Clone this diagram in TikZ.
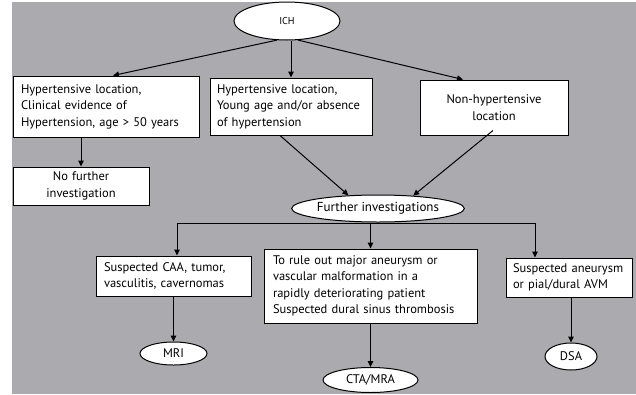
\documentclass[tikz,border=0pt]{standalone}
\usepackage{fontspec}
\setmainfont{PT Sans}
\usetikzlibrary{arrows.meta,shapes.geometric,calc}
\definecolor{bggray}{HTML}{ABABAF}
\begin{document}
\begin{tikzpicture}[x=1pt,y=-1pt,
  box/.style={draw=black,fill=white,line width=1pt,inner xsep=7pt,inner ysep=2pt,
    font=\fontsize{12.5}{16.5}\selectfont,minimum height=#1},
  box/.default=40pt,
  oval/.style={draw=black,fill=white,line width=1pt,ellipse,inner sep=0pt,
    font=\fontsize{12.5}{14}\selectfont},
  arr/.style={line width=1pt,-{Triangle[length=6pt,width=5.5pt]}},
  ln/.style={line width=1pt}]
\useasboundingbox (0,0) rectangle (636,394);
\fill[white] (0,0) rectangle (636,394);
\fill[bggray] (12,2) rectangle (636,394);

\node[oval,minimum width=106pt,minimum height=38pt,font=\fontsize{10}{12}\selectfont] (ich) at (287,21) {ICH};

\node[box=61pt,align=left,inner xsep=8pt,text width=170pt] (b1) at (106,106.5)
  {Hypertensive location,\\Clinical evidence of\\Hypertension, age > 50 years};
\node[box=57pt,text width=148pt,align=left] (b2) at (291,106.5)
  {Hypertensive location,\\Young age and/or absence\\of hypertension};
\node[box=55pt,text width=134pt,align=center] (b3) at (494,107.5)
  {Non-hypertensive\\location};
\node[box=38pt,text width=122pt,align=center] (b4) at (81,186)
  {No further\\investigation};

\node[oval,minimum width=170pt,minimum height=27pt,font=\fontsize{13}{14}\selectfont] (fi) at (378,208.5) {Further investigations};

\node[box=40pt,text width=139pt,align=left,inner xsep=8pt] (b5) at (173.5,276)
  {Suspected CAA, tumor,\\vasculitis, cavernomas};
\node[box=74pt,text width=195pt,align=left,inner xsep=9pt] (b6) at (370.5,286)
  {To rule out major aneurysm or\\vascular malformation in a\\rapidly deteriorating patient\\Suspected dural sinus thrombosis};
\node[box=39pt,text width=112pt,align=left] (b7) at (569,277.5)
  {Suspected aneurysm\\or pial/dural AVM};

\node[oval,minimum width=67pt,minimum height=23pt] (mri) at (173.5,353.5) {MRI};
\node[oval,minimum width=95pt,minimum height=25pt] (cta) at (370.5,380) {CTA/MRA};
\node[oval,minimum width=52pt,minimum height=27pt] (dsa) at (571,356.5) {DSA};

\draw[arr] (ich.242) -- ([xshift=7pt]b1.north);
\draw[arr] (ich.south -| b2.north) -- (b2.north);
\draw[arr] (ich.300) -- ([xshift=-31pt]b3.north);
\draw[arr] (b4.north |- b1.south) -- (b4.north);

\draw[arr] ([xshift=-11pt]b2.south) -- (fi.156);
\draw[arr] ([xshift=-1pt,yshift=5pt]b3.south) -- (fi.20);

\coordinate (jl) at (177,223);
\coordinate (jr) at (535,223);
\draw[ln] (jl) -- (jr);
\draw[arr] (jl) -- (b5.north -| jl);
\draw[arr] (fi.south -| b6.north) -- (b6.north);
\draw[arr] (jr) -- (b7.north -| jr);

\draw[arr] (mri.north |- b5.south) -- (mri.north);
\draw[arr] (cta.north |- b6.south) -- (cta.north);
\draw[arr] (dsa.north |- b7.south) -- (dsa.north);
\end{tikzpicture}
\end{document}
